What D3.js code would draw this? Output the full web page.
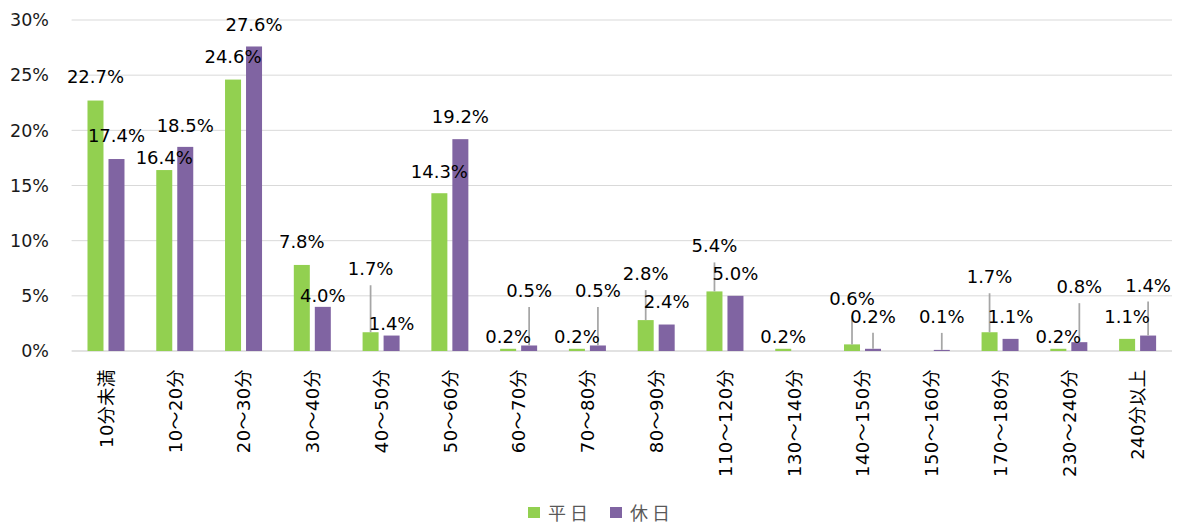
<!DOCTYPE html>
<html>
<head>
<meta charset="utf-8">
<script src="https://cdn.jsdelivr.net/npm/d3@7"></script>
<style>
  body { margin: 0; background: #fff; }
  svg { display: block; }
</style>
</head>
<body>
<div id="chart"></div>
<script>
// --- Data ---
const categories = ["10分未満", "10～20分", "20～30分", "30～40分", "40～50分", "50～60分", "60～70分", "70～80分",
  "80～90分", "110～120分", "130～140分", "140～150分", "150～160分", "170～180分", "230～240分", "240分以上"];
const seriesNames = ["平日", "休日"];
const weekday = [22.7, 16.4, 24.6, 7.8, 1.7, 14.3, 0.2, 0.2, 2.8, 5.4, 0.2, 0.6, null, 1.7, 0.2, 1.1];
const holiday = [17.4, 18.5, 27.6, 4.0, 1.4, 19.2, 0.5, 0.5, 2.4, 5.0, null, 0.2, 0.1, 1.1, 0.8, 1.4];
const yTicks = [0, 5, 10, 15, 20, 25, 30];

// label lift above bar top (px); large lifts get a leader line
const weekdayLift = [17.5, 6, 16.5, 17, 57, 15, 6, 6, 40, 39, 6, 39, 0, 49, 6, 16];
const holidayLift = [17, 15, 15.5, 5, 6, 16, 48.5, 48.5, 16.5, 16, 0, 26, 27, 16, 49, 44];

const colors = ["#92d050", "#8064a2"];
const W = 1179, H = 525;
const plot = { left: 71.6, right: 1172, top: 20, bottom: 351 };

const svg = d3.select("#chart").append("svg")
  .attr("width", W).attr("height", H)
  .style("font-family", "'DejaVu Sans', 'Noto Sans CJK JP', sans-serif");

// --- Scales ---
const x = d3.scaleBand().domain(categories)
  .range([plot.left, plot.right])
  .paddingInner(0.462).paddingOuter(0.231);
const x1 = d3.scaleBand().domain(seriesNames)
  .range([0, x.bandwidth()])
  .paddingInner(0.238);
const y = d3.scaleLinear().domain([0, 30]).range([plot.bottom, plot.top]);

// --- Grid + y labels ---
svg.append("g").selectAll("line").data(yTicks).join("line")
  .attr("x1", plot.left).attr("x2", plot.right)
  .attr("y1", d => y(d)).attr("y2", d => y(d))
  .attr("stroke", "#d9d9d9").attr("stroke-width", d => d === 0 ? 1.5 : 1);

svg.append("g").selectAll("text").data(yTicks).join("text")
  .attr("x", 49).attr("y", d => y(d)).attr("dy", "0.36em")
  .attr("text-anchor", "end")
  .style("font-size", "17.5px").style("fill", "#1a1a1a")
  .text(d => d + "%");

// --- Bars ---
const series = [
  { name: seriesNames[0], values: weekday, lift: weekdayLift, color: colors[0] },
  { name: seriesNames[1], values: holiday, lift: holidayLift, color: colors[1] },
];

series.forEach(s => {
  const pts = categories.map((c, i) => ({ c, v: s.values[i], lift: s.lift[i] })).filter(d => d.v != null);
  const cx = d => x(d.c) + x1(s.name) + x1.bandwidth() / 2;
  svg.append("g").selectAll("rect").data(pts).join("rect")
    .attr("x", d => x(d.c) + x1(s.name))
    .attr("width", x1.bandwidth())
    .attr("y", d => y(d.v))
    .attr("height", d => y(0) - y(d.v))
    .attr("fill", s.color);
  s.pts = pts; s.cx = cx;
});

// leader lines
series.forEach(s => {
  svg.append("g").selectAll("line").data(s.pts.filter(d => d.lift > 20)).join("line")
    .attr("x1", s.cx).attr("x2", s.cx)
    .attr("y1", d => y(d.v) - d.lift + 10)
    .attr("y2", d => y(d.v))
    .attr("stroke", "#a6a6a6").attr("stroke-width", 1.75);
});

// data labels
series.forEach(s => {
  svg.append("g").selectAll("text").data(s.pts).join("text")
    .attr("x", s.cx)
    .attr("y", d => y(d.v) - d.lift)
    .attr("text-anchor", "middle")
    .style("font-size", "18px").style("fill", "#000")
    .text(d => d.v.toFixed(1) + "%");
});

// --- X labels ---
svg.append("g").selectAll("text").data(categories).join("text")
  .attr("transform", d => `translate(${x(d) + x.bandwidth() / 2 + 0.5},${plot.bottom + 18}) rotate(-90)`)
  .attr("dy", "0.35em")
  .attr("text-anchor", "end")
  .style("font-size", "18px").style("fill", "#000")
  .style("letter-spacing", "0.4px")
  .text(d => d);

// --- Legend ---
const legendX = [528, 610];
seriesNames.forEach((n, i) => {
  const g = svg.append("g").attr("transform", `translate(${legendX[i]},507)`);
  g.append("rect").attr("width", 12).attr("height", 11).attr("fill", colors[i]);
  g.append("text").attr("x", 20).attr("y", 6).attr("dy", "0.38em")
    .style("font-size", "18px").style("letter-spacing", "4px").style("fill", "#595959")
    .text(n);
});
</script>
</body>
</html>
